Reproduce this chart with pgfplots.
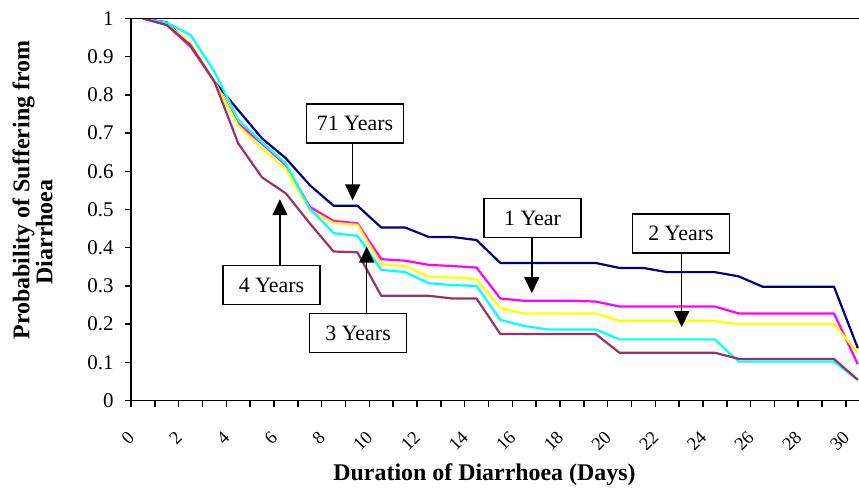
\documentclass[border=0pt]{standalone}
\usepackage{pgfplots}
\usepackage{pgfplotstable}
\pgfplotsset{compat=1.18}
\usepackage{fontspec}
\setmainfont{Liberation Serif}
\usetikzlibrary{arrows.meta}

\definecolor{navyc}{RGB}{0,0,128}
\definecolor{magc}{RGB}{255,0,255}
\definecolor{yelc}{RGB}{255,255,0}
\definecolor{cyac}{RGB}{0,255,255}
\definecolor{purc}{RGB}{153,51,102}

\pgfplotstableread{
x n m yl c p
0.5 1.000 1.000 1.000 1.000 1.000
1.5 0.990 0.983 0.985 0.989 0.983
2.5 0.930 0.926 0.935 0.957 0.930
3.5 0.835 0.835 0.835 0.861 0.835
4.5 0.760 0.725 0.720 0.735 0.673
5.5 0.686 0.672 0.660 0.675 0.584
6.5 0.634 0.616 0.605 0.620 0.542
7.5 0.564 0.507 0.499 0.503 0.464
8.5 0.510 0.470 0.465 0.438 0.390
9.5 0.510 0.464 0.460 0.431 0.388
10.5 0.453 0.370 0.357 0.342 0.274
11.5 0.453 0.366 0.352 0.336 0.274
12.5 0.428 0.355 0.324 0.307 0.274
13.5 0.428 0.352 0.322 0.302 0.267
14.5 0.420 0.348 0.318 0.300 0.267
15.5 0.360 0.267 0.241 0.211 0.174
16.5 0.360 0.261 0.228 0.195 0.174
17.5 0.360 0.261 0.228 0.186 0.174
18.5 0.360 0.261 0.228 0.186 0.174
19.5 0.360 0.259 0.228 0.186 0.174
20.5 0.347 0.246 0.208 0.160 0.125
21.5 0.347 0.246 0.208 0.160 0.125
22.5 0.336 0.246 0.208 0.160 0.125
23.5 0.336 0.246 0.208 0.160 0.125
24.5 0.336 0.246 0.208 0.160 0.125
25.5 0.325 0.228 0.200 0.102 0.109
26.5 0.298 0.228 0.200 0.102 0.109
27.5 0.298 0.228 0.200 0.102 0.109
28.5 0.298 0.228 0.200 0.102 0.109
29.5 0.298 0.228 0.200 0.102 0.109
30.5 0.137 0.095 0.125 0.054 0.054
}\data

\tikzset{
  lbox/.style={draw, line width=1.2bp, fill=white, minimum width=97bp, minimum height=39bp,
    inner sep=0pt, font=\fontsize{22}{22}\selectfont},
  arr/.style={line width=1.5bp, -{Triangle[width=15bp,length=16bp]}}
}

\begin{document}
\begin{tikzpicture}
\begin{axis}[
  scale only axis, width=728bp, height=382bp,
  xmin=0, xmax=30.55, ymin=0, ymax=1,
  axis x line*=bottom, axis y line*=left,
  axis line style={line width=1.8bp, -},
  xtick={0,2,...,30}, minor xtick={1,3,...,29},
  ytick={0,0.1,0.2,0.3,0.4,0.5,0.6,0.7,0.8,0.9,1},
  tick align=outside, major tick length=6bp, minor tick length=6bp,
  tick style={line width=1.5bp, black},
  /pgf/number format/assume math mode=true,
  yticklabel style={font=\fontsize{21}{21}\selectfont, xshift=-8bp, /pgf/number format/fixed, /pgf/number format/precision=1},
  xticklabel style={font=\fontsize{18.5}{18.5}\selectfont, inner sep=1bp, yshift=-27bp, xshift=1bp, rotate=45, anchor=east},
  xlabel={Duration of Diarrhoea (Days)},
  xlabel style={font=\bfseries\fontsize{24}{24}\selectfont, inner sep=0pt, at={(rel axis cs:0.4856,0)}, anchor=base, yshift=-79.5bp},
  ylabel={Probability of Suffering from\\Diarrhoea\hspace*{84bp}},
  ylabel style={align=center, font=\bfseries\fontsize{24}{23}\selectfont, at={(rel axis cs:0,0.551)}, anchor=center, yshift=98.5bp},
  every axis plot/.append style={line width=2.2bp, line join=round},
]
\addplot[navyc] table[x=x, y=n] {\data};
\addplot[magc] table[x=x, y=m] {\data};
\addplot[yelc] table[x=x, y=yl] {\data};
\addplot[cyac] table[x=x, y=c] {\data};
\addplot[purc] table[x=x, y=p] {\data};
\draw[line width=1.5bp] (rel axis cs:0,1) -- (rel axis cs:1,1);
\coordinate (bl) at (rel axis cs:0,0);
\coordinate (tr) at (rel axis cs:1,1);

\node[lbox] at (axis cs:9.40,0.725) {71 Years};
\draw[arr] (axis cs:9.3,0.674) -- (axis cs:9.3,0.524);
\node[lbox] at (axis cs:16.85,0.477) {1 Year};
\draw[arr] (axis cs:16.82,0.426) -- (axis cs:16.82,0.281);
\node[lbox] at (axis cs:23.08,0.437) {2 Years};
\draw[arr] (axis cs:23.11,0.387) -- (axis cs:23.11,0.192);
\node[lbox] at (axis cs:5.90,0.302) {4 Years};
\draw[arr] (axis cs:6.25,0.353) -- (axis cs:6.25,0.527);
\node[lbox] at (axis cs:9.53,0.176) {3 Years};
\draw[arr] (axis cs:9.89,0.226) -- (axis cs:9.89,0.403);
\end{axis}
\pgfresetboundingbox
\path[use as bounding box] ([xshift=-131bp,yshift=-96.5bp]bl) rectangle ([yshift=18.5bp]tr);
\end{tikzpicture}
\end{document}
